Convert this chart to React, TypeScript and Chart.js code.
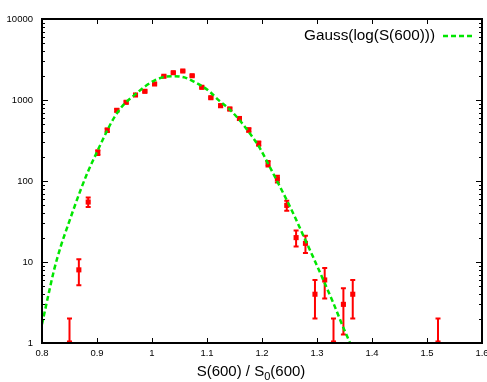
import React, { useEffect, useRef } from 'react';
import { Chart, registerables } from 'chart.js';

Chart.register(...registerables);

// Measured histogram (bin centres, counts, Poisson errors)
const binCenters = [0.850, 0.867, 0.884, 0.9015, 0.9186, 0.936, 0.953, 0.970, 0.987, 1.0047, 1.0216, 1.0387, 1.056, 1.073, 1.0906, 1.107, 1.1247, 1.1415, 1.159, 1.176, 1.194, 1.211, 1.228, 1.245, 1.262, 1.279, 1.2963, 1.314, 1.330, 1.348, 1.365, 1.520];
const counts = [1, 8, 55, 224, 423, 746, 937, 1153, 1280, 1577, 1963, 2174, 2280, 1995, 1435, 1067, 850, 774, 591, 426, 290, 164, 106, 50, 20, 17, 4, 6, 1, 3, 4, 1];
const countErrors = [1, 2.83, 7.4, 15, 20.6, 27.3, 30.6, 34, 35.8, 39.7, 44.3, 46.6, 47.7, 44.7, 37.9, 32.7, 29.2, 27.8, 24.3, 20.6, 17, 12.8, 10.3, 7.1, 4.5, 4.1, 2, 2.45, 1, 1.73, 2, 1];

// Fitted curve
const fitX = [0.800, 0.810, 0.822, 0.834, 0.846, 0.859, 0.871, 0.883, 0.900, 0.917, 0.932, 0.950, 0.968, 0.986, 1.005, 1.023, 1.041, 1.059, 1.075, 1.090, 1.105, 1.120, 1.141, 1.159, 1.177, 1.195, 1.214, 1.229, 1.244, 1.259, 1.274, 1.293, 1.311, 1.329, 1.347, 1.360, 1.366];
const fitY = [1.7, 3.5, 8.0, 15.5, 27, 48, 80, 128, 228, 400, 620, 900, 1150, 1450, 1750, 1930, 1970, 1900, 1700, 1500, 1270, 1010, 767, 566, 395, 262, 150, 95, 60, 37, 22, 11.5, 6.1, 3.2, 1.6, 1.0, 0.8];

const xTickValues = [0.8, 0.9, 1.0, 1.1, 1.2, 1.3, 1.4, 1.5, 1.6];
const yTickValues = [1, 10, 100, 1000, 10000];
const yMinorFactors = [2, 3, 4, 5, 6, 7, 8, 9];
const legendLabel = 'Gauss(log(S(600)))';
const xTitleMain = 'S(600) / S';
const xTitleSub = '0';
const xTitleTail = '(600)';

const RED = '#ff0000';
const GREEN = '#00e600';
const FONT = '"Liberation Sans", Arial, Helvetica, sans-serif';

const gnuplotPlugin = {
  id: 'gnuplotLook',
  afterDatasetDraw(chart: any, args: any) {
    if (args.index !== 1) return;
    const { ctx, chartArea: a, scales } = chart;
    const xs = scales.x;
    const ys = scales.y;
    ctx.save();
    ctx.beginPath();
    ctx.rect(a.left, a.top, a.right - a.left, a.bottom - a.top);
    ctx.clip();
    ctx.strokeStyle = RED;
    ctx.lineWidth = 2;
    binCenters.forEach((x, i) => {
      const px = xs.getPixelForValue(x);
      const lo = counts[i] - countErrors[i];
      const hi = counts[i] + countErrors[i];
      const pyLo = lo > 0.05 ? ys.getPixelForValue(lo) : a.bottom + 3;
      const pyHi = ys.getPixelForValue(hi);
      ctx.beginPath();
      ctx.moveTo(px, pyLo);
      ctx.lineTo(px, pyHi);
      ctx.moveTo(px - 2.5, pyHi);
      ctx.lineTo(px + 2.5, pyHi);
      if (lo > 0.05) {
        ctx.moveTo(px - 2.5, pyLo);
        ctx.lineTo(px + 2.5, pyLo);
      }
      ctx.stroke();
    });
    ctx.restore();
  },
  afterDraw(chart: any) {
    const { ctx, chartArea: a, scales } = chart;
    const xs = scales.x;
    const ys = scales.y;
    ctx.save();
    // ticks (inward, mirrored)
    ctx.strokeStyle = '#000';
    ctx.lineWidth = 1;
    ctx.beginPath();
    xTickValues.forEach((v) => {
      const px = Math.round(xs.getPixelForValue(v)) + 0.5;
      ctx.moveTo(px, a.bottom);
      ctx.lineTo(px, a.bottom - 5);
      ctx.moveTo(px, a.top);
      ctx.lineTo(px, a.top + 5);
    });
    yTickValues.forEach((v, i) => {
      const py = Math.round(ys.getPixelForValue(v)) + 0.5;
      ctx.moveTo(a.left, py);
      ctx.lineTo(a.left + 6, py);
      ctx.moveTo(a.right, py);
      ctx.lineTo(a.right - 6, py);
      if (i < yTickValues.length - 1) {
        yMinorFactors.forEach((m) => {
          const pm = Math.round(ys.getPixelForValue(v * m)) + 0.5;
          ctx.moveTo(a.left, pm);
          ctx.lineTo(a.left + 3, pm);
          ctx.moveTo(a.right, pm);
          ctx.lineTo(a.right - 3, pm);
        });
      }
    });
    ctx.stroke();
    // frame
    ctx.lineWidth = 2;
    ctx.strokeRect(a.left, a.top, a.right - a.left, a.bottom - a.top);
    // legend
    ctx.fillStyle = '#000';
    ctx.font = `15.3px ${FONT}`;
    ctx.textAlign = 'right';
    ctx.textBaseline = 'middle';
    ctx.fillText(legendLabel, 435, 36);
    ctx.strokeStyle = GREEN;
    ctx.lineWidth = 2.5;
    ctx.setLineDash([5, 3]);
    ctx.beginPath();
    ctx.moveTo(443, 36);
    ctx.lineTo(472, 36);
    ctx.stroke();
    ctx.setLineDash([]);
    // x title with subscript
    ctx.textAlign = 'left';
    ctx.textBaseline = 'alphabetic';
    ctx.font = `15px ${FONT}`;
    const w1 = ctx.measureText(xTitleMain).width;
    const w3 = ctx.measureText(xTitleTail).width;
    ctx.font = `11px ${FONT}`;
    const w2 = ctx.measureText(xTitleSub).width;
    const total = w1 + w2 + w3;
    let x0 = 251 - total / 2;
    const base = 375.5;
    ctx.font = `15px ${FONT}`;
    ctx.fillText(xTitleMain, x0, base);
    x0 += w1;
    ctx.font = `11px ${FONT}`;
    ctx.fillText(xTitleSub, x0, base + 4);
    x0 += w2;
    ctx.font = `15px ${FONT}`;
    ctx.fillText(xTitleTail, x0, base);
    ctx.restore();
  },
};

export default function App() {
  const ref = useRef<HTMLCanvasElement>(null);
  useEffect(() => {
    if (!ref.current) return;
    const chart = new Chart(ref.current, {
      type: 'scatter',
      data: {
        datasets: [
          {
            label: legendLabel,
            data: fitX.map((x, i) => ({ x, y: fitY[i] })),
            showLine: true,
            borderColor: GREEN,
            borderWidth: 2.5,
            borderDash: [5, 3],
            pointRadius: 0,
            cubicInterpolationMode: 'monotone',
            fill: false,
          },
          {
            label: 'data',
            data: binCenters.map((x, i) => ({ x, y: counts[i] })),
            showLine: false,
            pointStyle: 'rect',
            pointRadius: 3.6,
            backgroundColor: RED,
            borderColor: RED,
            borderWidth: 0,
          },
        ],
      },
      options: {
        responsive: false,
        animation: false,
        events: [],
        layout: { padding: { top: 19, right: 5, left: 0, bottom: 0 } },
        plugins: { legend: { display: false }, tooltip: { enabled: false } },
        scales: {
          x: {
            type: 'linear',
            min: 0.8,
            max: 1.6,
            afterBuildTicks: (s: any) => {
              s.ticks = xTickValues.map((v) => ({ value: v }));
            },
            ticks: {
              callback: (v: any) => String(Number(Number(v).toFixed(1))),
              font: { family: FONT, size: 9.5 },
              color: '#000',
              padding: 5,
              maxRotation: 0,
              autoSkip: false,
            },
            grid: { display: false, drawTicks: false },
            border: { display: false },
            afterFit: (s: any) => {
              s.height = 39;
              s.paddingLeft = 0;
              s.paddingRight = 0;
            },
          },
          y: {
            type: 'logarithmic',
            min: 1,
            max: 10000,
            afterBuildTicks: (s: any) => {
              s.ticks = yTickValues.map((v) => ({ value: v, major: true }));
            },
            ticks: {
              callback: (v: any) => String(v),
              font: { family: FONT, size: 9.5 },
              color: '#000',
              padding: 9,
              autoSkip: false,
            },
            grid: { display: false, drawTicks: false },
            border: { display: false },
            afterFit: (s: any) => {
              s.width = 42;
              s.paddingTop = 0;
              s.paddingBottom = 0;
            },
          },
        },
      },
      plugins: [gnuplotPlugin],
    } as any);
    return () => chart.destroy();
  }, []);
  return (
    <div style={{ position: 'fixed', left: 0, top: 0, width: 487, height: 382, background: '#fff' }}>
      <canvas ref={ref} width={487} height={382} style={{ display: 'block' }} />
    </div>
  );
}
